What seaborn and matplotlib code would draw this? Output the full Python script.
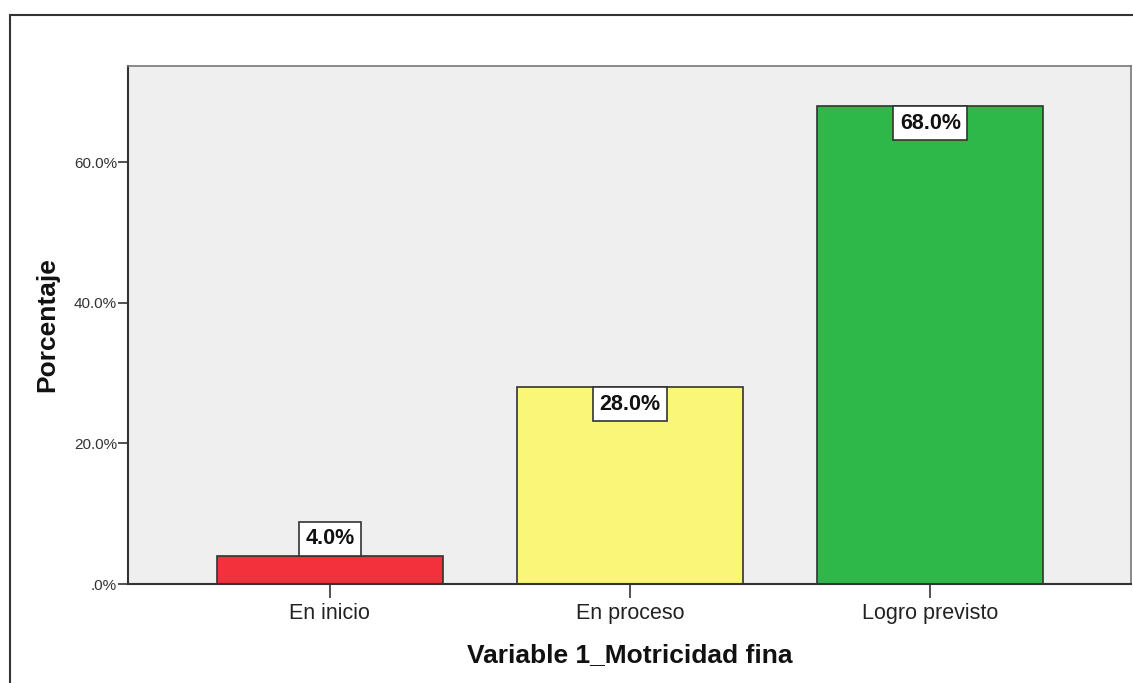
import numpy as np
import pandas as pd
import matplotlib
matplotlib.use('Agg')
import matplotlib.pyplot as plt
import seaborn as sns
from matplotlib.patches import Rectangle

# data
categorias = ['En inicio', 'En proceso', 'Logro previsto']
porcentajes = [4.0, 28.0, 68.0]
colores = ['#F2313C', '#FAF677', '#2EB84A']
yticks = [0, 20, 40, 60]
ytick_labels = ['.0%', '20.0%', '40.0%', '60.0%']

df = pd.DataFrame({'categoria': categorias, 'porcentaje': porcentajes})

sns.set_style('white')
plt.rcParams['font.family'] = ['Liberation Sans', 'DejaVu Sans']
plt.rcParams['text.color'] = '#111111'

fig = plt.figure(figsize=(11.33, 6.83), dpi=100)
ax = fig.add_axes([128/1133, 1-584/683, (1131-128)/1133, (584-66)/683])
ax.set_facecolor('#EFEFEF')

sns.barplot(data=df, x='categoria', y='porcentaje', hue='categoria',
            palette=colores, legend=False, width=0.752,
            edgecolor='#333333', linewidth=1.2, saturation=1, ax=ax)

ax.set_xlim(-0.672, 2.668)
ax.set_ylim(0, 73.7)
ax.set_yticks(yticks)
ax.set_yticklabels(ytick_labels, fontsize=11, color='#333333')
ax.tick_params(axis='y', direction='out', length=7, width=1.2, color='#333333', pad=1, left=True)
ax.tick_params(axis='x', direction='out', length=10, width=1.2, color='#333333', pad=4,
               labelsize=15.5, labelcolor='#222222', bottom=True)

for s in ['left', 'bottom']:
    ax.spines[s].set_color('#333333')
    ax.spines[s].set_linewidth(1.5)
for s in ['top', 'right']:
    ax.spines[s].set_color('#777777')
    ax.spines[s].set_linewidth(1.2)

ax.set_xlabel('Variable 1_Motricidad fina', fontsize=19, fontweight='bold', color='#111111')
ax.xaxis.set_label_coords(0.5, -(655-584)/518)
ax.xaxis.label.set_va('center')
ax.set_ylabel('Porcentaje', fontsize=19, fontweight='bold', color='#111111')
ax.yaxis.set_label_coords((47-128)/1003, 0.5)
ax.yaxis.label.set_va('center')

# value labels in white boxes
pad = 0.3
fs = 15.5
for i, v in enumerate(porcentajes):
    txt = f'{v:.1f}%'
    if v > 10:
        ax.annotate(txt, (i, v), xytext=(0, -pad*fs), textcoords='offset points',
                    ha='center', va='top', fontsize=fs, fontweight='bold',
                    bbox=dict(boxstyle=f'square,pad={pad}', fc='white', ec='#333333', lw=1.2))
    else:
        ax.annotate(txt, (i, v), xytext=(0, pad*fs), textcoords='offset points',
                    ha='center', va='bottom', fontsize=fs, fontweight='bold',
                    bbox=dict(boxstyle=f'square,pad={pad}', fc='white', ec='#333333', lw=1.2))

# outer frame (left and top edges visible)
fig.patches.append(Rectangle((10/1133, -0.1), 1.2, 1.1 - 15/683, transform=fig.transFigure,
                             fill=False, ec='#333333', lw=1.5, zorder=0))

fig.savefig('out.png', dpi=100)
